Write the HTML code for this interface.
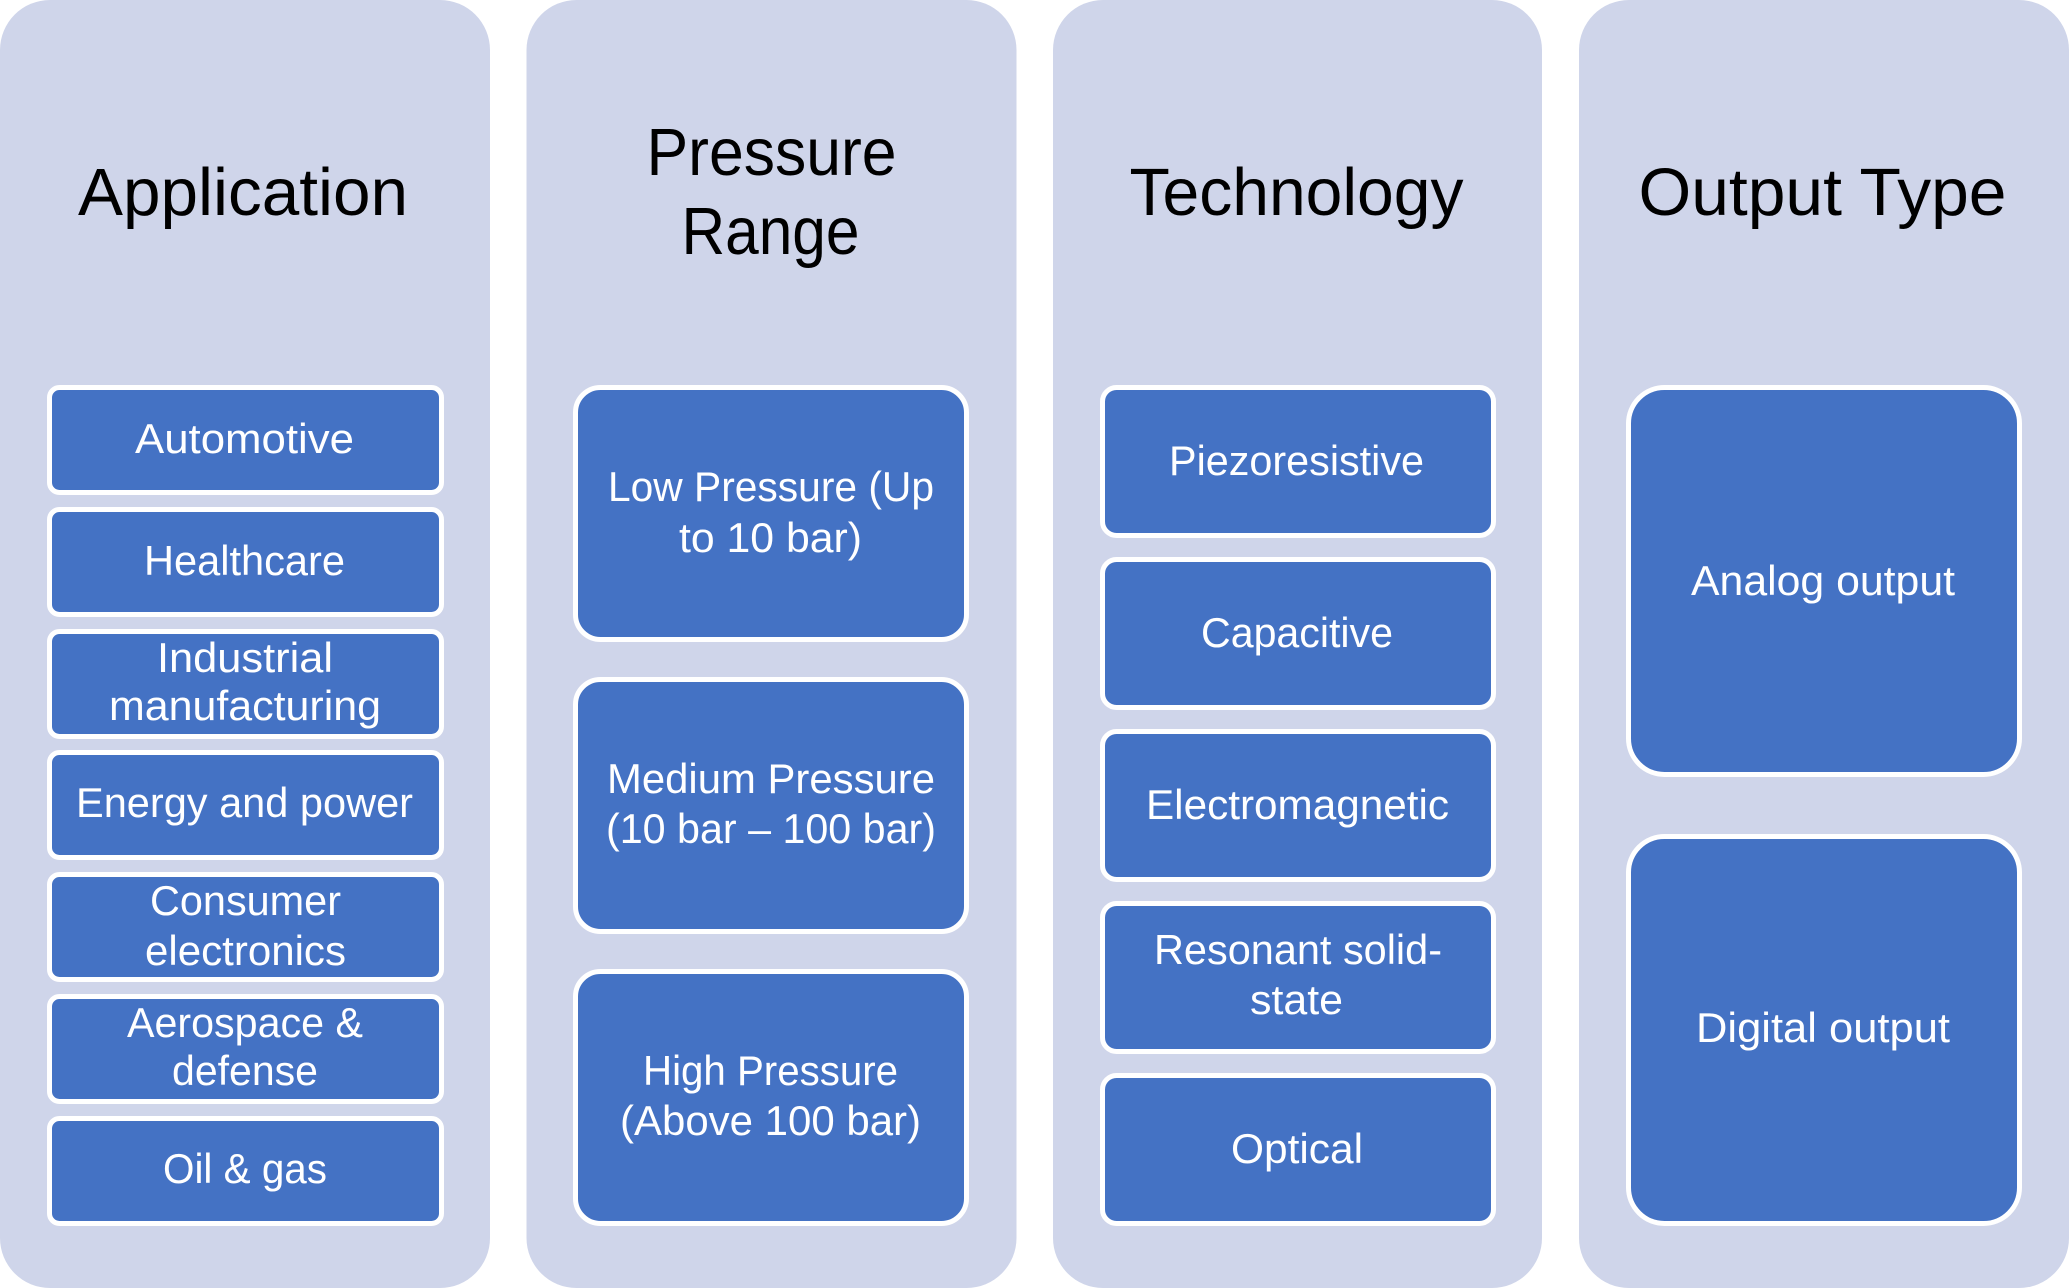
<!DOCTYPE html>
<html>
<head>
<meta charset="utf-8">
<style>
  html, body { margin: 0; padding: 0; background: #ffffff; }
  svg { display: block; }
  .h { font-family: "Liberation Sans", Arial, sans-serif; font-size: 67px; fill: #000000; }
  .t { font-family: "Liberation Sans", Arial, sans-serif; font-size: 42px; fill: #ffffff; }
</style>
</head>
<body>
<svg width="2069" height="1288" viewBox="0 0 2069 1288" xmlns="http://www.w3.org/2000/svg">
  <rect x="0" y="0" width="2069" height="1288" fill="#ffffff"/>

  <!-- Columns -->
  <rect x="0" y="0" width="490" height="1288" rx="50" ry="50" fill="#CFD5EA"/>
  <rect x="526.5" y="0" width="490" height="1288" rx="50" ry="50" fill="#CFD5EA"/>
  <rect x="1053" y="0" width="489" height="1288" rx="50" ry="50" fill="#CFD5EA"/>
  <rect x="1579" y="0" width="490" height="1288" rx="50" ry="50" fill="#CFD5EA"/>

  <!-- Headings -->
  <text class="h" x="243" y="215" text-anchor="middle" textLength="330" lengthAdjust="spacingAndGlyphs">Application</text>
  <text class="h" x="771.5" y="175" text-anchor="middle" textLength="250" lengthAdjust="spacingAndGlyphs">Pressure</text>
  <text class="h" x="770.5" y="254" text-anchor="middle" textLength="178" lengthAdjust="spacingAndGlyphs">Range</text>
  <text class="h" x="1296.5" y="215" text-anchor="middle" textLength="334" lengthAdjust="spacingAndGlyphs">Technology</text>
  <text class="h" x="1822.5" y="215" text-anchor="middle" textLength="368" lengthAdjust="spacingAndGlyphs">Output Type</text>

  <!-- Column 1 boxes -->
  <g fill="#4472C4" stroke="#ffffff" stroke-width="5">
    <rect x="49.5" y="387.5" width="392" height="105" rx="10" ry="10"/>
    <rect x="49.5" y="509.5" width="392" height="105" rx="10" ry="10"/>
    <rect x="49.5" y="631.5" width="392" height="105" rx="10" ry="10"/>
    <rect x="49.5" y="752.5" width="392" height="105" rx="10" ry="10"/>
    <rect x="49.5" y="874.5" width="392" height="105" rx="10" ry="10"/>
    <rect x="49.5" y="996.5" width="392" height="105" rx="10" ry="10"/>
    <rect x="49.5" y="1118.5" width="392" height="105" rx="10" ry="10"/>
  </g>
  <text class="t" x="244.5" y="453" text-anchor="middle" textLength="219" lengthAdjust="spacingAndGlyphs">Automotive</text>
  <text class="t" x="244.5" y="575" text-anchor="middle" textLength="201" lengthAdjust="spacingAndGlyphs">Healthcare</text>
  <text class="t" x="245" y="672" text-anchor="middle" textLength="176" lengthAdjust="spacingAndGlyphs">Industrial</text>
  <text class="t" x="245" y="720" text-anchor="middle" textLength="272" lengthAdjust="spacingAndGlyphs">manufacturing</text>
  <text class="t" x="244.5" y="817" text-anchor="middle" textLength="337" lengthAdjust="spacingAndGlyphs">Energy and power</text>
  <text class="t" x="245.5" y="915" text-anchor="middle" textLength="191" lengthAdjust="spacingAndGlyphs">Consumer</text>
  <text class="t" x="245.5" y="965" text-anchor="middle" textLength="201" lengthAdjust="spacingAndGlyphs">electronics</text>
  <text class="t" x="245" y="1037" text-anchor="middle" textLength="236" lengthAdjust="spacingAndGlyphs">Aerospace &amp;</text>
  <text class="t" x="245" y="1085" text-anchor="middle" textLength="146" lengthAdjust="spacingAndGlyphs">defense</text>
  <text class="t" x="245" y="1183" text-anchor="middle" textLength="164" lengthAdjust="spacingAndGlyphs">Oil &amp; gas</text>

  <!-- Column 2 boxes -->
  <g fill="#4472C4" stroke="#ffffff" stroke-width="5">
    <rect x="575.5" y="387.5" width="391" height="252" rx="25" ry="25"/>
    <rect x="575.5" y="679.5" width="391" height="252" rx="25" ry="25"/>
    <rect x="575.5" y="971.5" width="391" height="252" rx="25" ry="25"/>
  </g>
  <text class="t" x="771" y="501" text-anchor="middle" textLength="326" lengthAdjust="spacingAndGlyphs">Low Pressure (Up</text>
  <text class="t" x="770.5" y="552" text-anchor="middle" textLength="183" lengthAdjust="spacingAndGlyphs">to 10 bar)</text>
  <text class="t" x="771" y="793" text-anchor="middle" textLength="328" lengthAdjust="spacingAndGlyphs">Medium Pressure</text>
  <text class="t" x="771" y="843" text-anchor="middle" textLength="330" lengthAdjust="spacingAndGlyphs">(10 bar – 100 bar)</text>
  <text class="t" x="770.5" y="1085" text-anchor="middle" textLength="255" lengthAdjust="spacingAndGlyphs">High Pressure</text>
  <text class="t" x="770.5" y="1135" text-anchor="middle" textLength="301" lengthAdjust="spacingAndGlyphs">(Above 100 bar)</text>

  <!-- Column 3 boxes -->
  <g fill="#4472C4" stroke="#ffffff" stroke-width="5">
    <rect x="1102.5" y="387.5" width="391" height="148" rx="14" ry="14"/>
    <rect x="1102.5" y="559.5" width="391" height="148" rx="14" ry="14"/>
    <rect x="1102.5" y="731.5" width="391" height="148" rx="14" ry="14"/>
    <rect x="1102.5" y="903.5" width="391" height="148" rx="14" ry="14"/>
    <rect x="1102.5" y="1075.5" width="391" height="148" rx="14" ry="14"/>
  </g>
  <text class="t" x="1296.5" y="475" text-anchor="middle" textLength="255" lengthAdjust="spacingAndGlyphs">Piezoresistive</text>
  <text class="t" x="1297" y="647" text-anchor="middle" textLength="192" lengthAdjust="spacingAndGlyphs">Capacitive</text>
  <text class="t" x="1297.5" y="819" text-anchor="middle" textLength="303" lengthAdjust="spacingAndGlyphs">Electromagnetic</text>
  <text class="t" x="1298" y="964" text-anchor="middle" textLength="288" lengthAdjust="spacingAndGlyphs">Resonant solid-</text>
  <text class="t" x="1296.5" y="1014" text-anchor="middle" textLength="93" lengthAdjust="spacingAndGlyphs">state</text>
  <text class="t" x="1297" y="1163" text-anchor="middle" textLength="132" lengthAdjust="spacingAndGlyphs">Optical</text>

  <!-- Column 4 boxes -->
  <g fill="#4472C4" stroke="#ffffff" stroke-width="5">
    <rect x="1628.5" y="387.5" width="391" height="387" rx="36" ry="36"/>
    <rect x="1628.5" y="836.5" width="391" height="387" rx="36" ry="36"/>
  </g>
  <text class="t" x="1823" y="595" text-anchor="middle" textLength="264" lengthAdjust="spacingAndGlyphs">Analog output</text>
  <text class="t" x="1823" y="1042" text-anchor="middle" textLength="254" lengthAdjust="spacingAndGlyphs">Digital output</text>
</svg>
</body>
</html>
